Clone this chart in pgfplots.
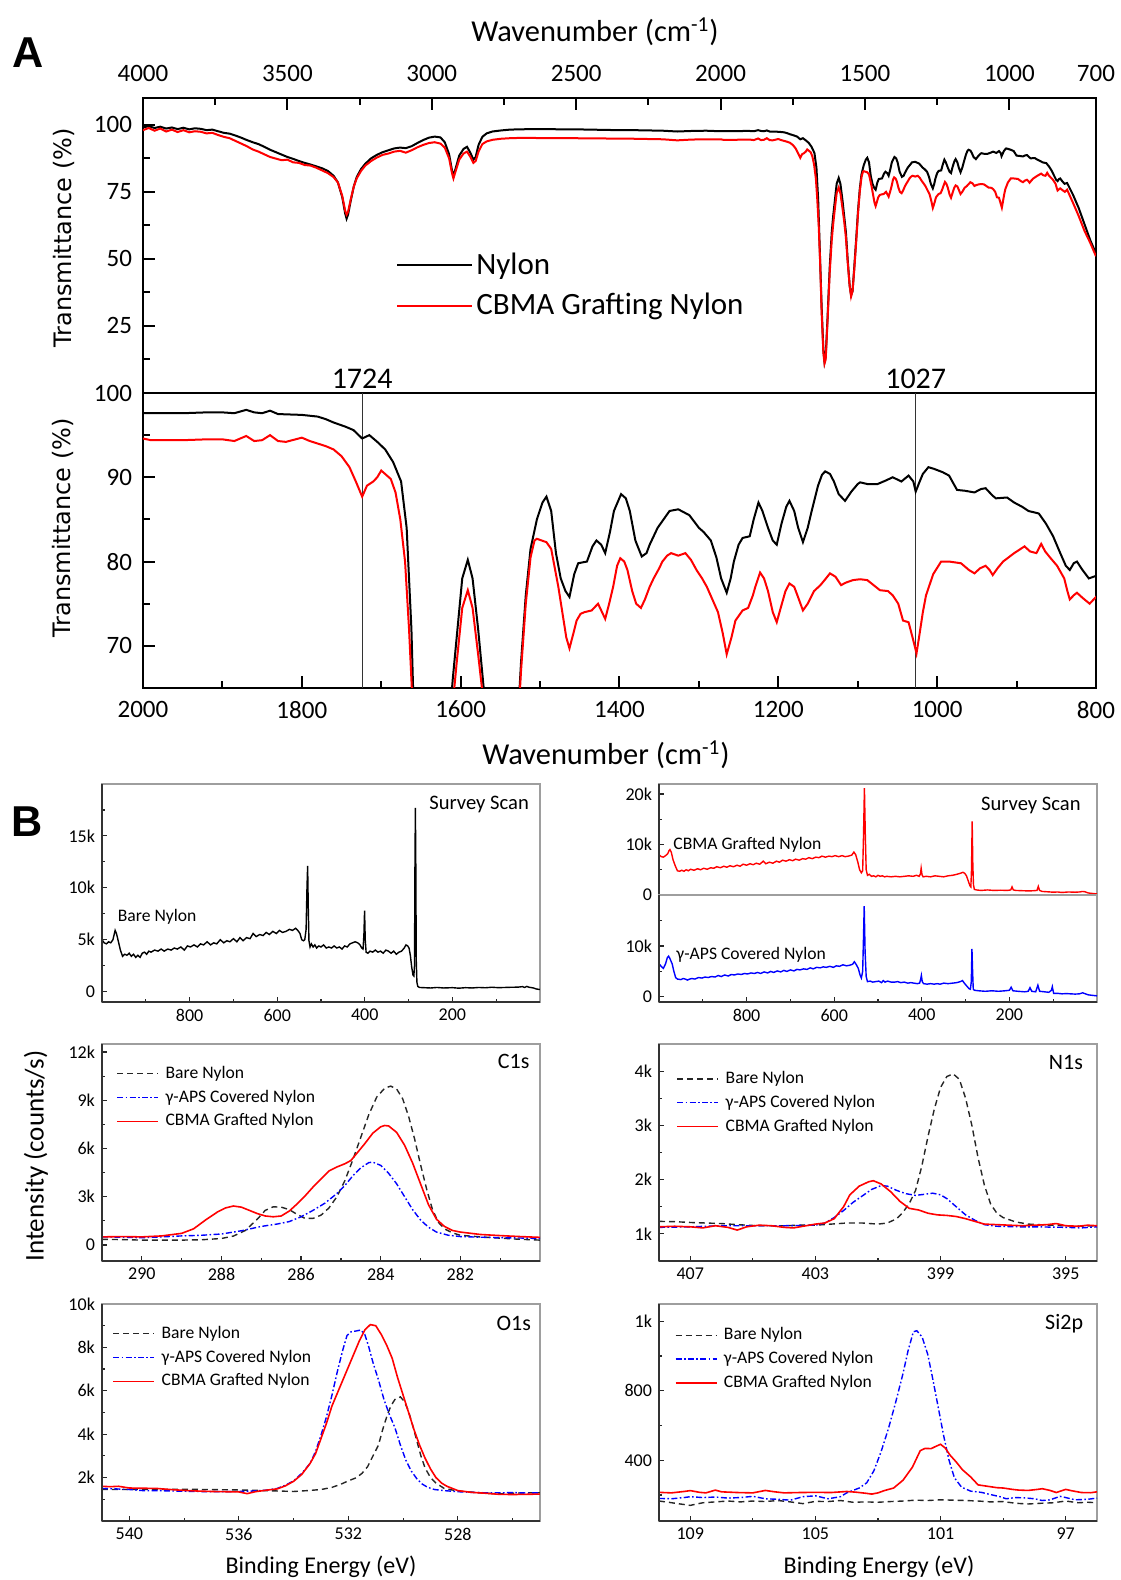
\documentclass[border=0pt]{standalone}
\usepackage{fontspec}
\setmainfont{Carlito}
\newfontfamily\dejavu{DejaVu Sans}
\newfontfamily\arialf{Liberation Sans}
\usepackage{pgfplots}
\usepackage{pgfplotstable}
\pgfplotsset{compat=1.18}

% FTIR spectra (wavenumber, transmittance %)
\pgfplotstableread{
wn T
4000 99.0
3980 99.5
3960 98.8
3940 99.3
3920 98.6
3900 99.0
3880 98.4
3860 98.9
3840 98.3
3820 98.7
3800 98.5
3780 98.0
3760 98.2
3740 97.6
3720 97.0
3700 96.7
3680 96.0
3660 95.2
3640 94.3
3620 93.5
3600 92.8
3580 91.8
3560 90.7
3540 89.8
3520 88.9
3500 88.0
3480 87.3
3460 86.5
3440 85.8
3420 85.2
3400 84.5
3380 83.8
3360 82.8
3340 81.0
3325 78.5
3310 73.0
3300 67.0
3295 65.0
3290 66.5
3280 72.0
3270 77.0
3260 80.5
3245 83.5
3230 85.5
3210 87.5
3190 88.8
3170 89.8
3150 90.5
3130 91.2
3110 91.5
3090 91.3
3070 92.0
3050 93.2
3030 94.3
3010 95.2
2990 95.6
2970 95.3
2955 93.5
2940 89.0
2930 83.0
2925 81.0
2918 83.5
2905 88.5
2890 91.0
2878 91.8
2866 89.5
2856 87.0
2848 88.0
2838 92.5
2825 95.5
2810 96.8
2790 97.5
2760 97.9
2730 98.2
2700 98.3
2650 98.4
2600 98.4
2550 98.3
2500 98.3
2450 98.2
2400 98.1
2350 98.0
2300 98.0
2250 97.9
2200 97.8
2150 97.5
2100 97.7
2050 97.8
2000 97.6
1950 97.6
1920 97.7
1900 97.7
1885 97.6
1870 98.0
1860 97.7
1850 97.6
1840 97.9
1830 97.5
1800 97.4
1780 97.2
1770 96.9
1760 96.5
1745 96.0
1735 95.6
1724 94.6
1715 95.0
1705 94.2
1695 93.3
1685 91.8
1675 89.5
1668 84.0
1662 72.0
1656 52.0
1650 32.0
1644 16.0
1640 11.5
1636 13.5
1630 27.0
1622 47.0
1615 60.0
1610 66.0
1605 71.0
1598 78.0
1591 80.2
1585 78.0
1578 72.0
1572 66.0
1566 60.0
1560 50.0
1553 40.0
1548 36.5
1543 38.0
1537 47.0
1530 58.0
1524 68.0
1518 76.0
1512 81.5
1504 85.0
1497 87.0
1492 87.7
1486 86.0
1480 81.0
1474 78.0
1468 76.5
1463 75.8
1457 78.5
1452 79.8
1441 80.0
1434 81.8
1429 82.5
1423 82.0
1418 81.0
1412 83.5
1407 86.0
1398 88.0
1392 87.5
1387 86.0
1380 82.5
1372 80.6
1366 81.0
1362 82.0
1352 84.0
1337 86.0
1326 86.2
1312 85.5
1300 84.0
1294 83.5
1285 82.5
1278 80.5
1272 78.0
1265 76.3
1260 78.0
1256 80.0
1250 82.0
1245 82.8
1236 83.0
1231 85.0
1225 87.0
1220 86.0
1213 84.0
1207 82.5
1202 82.0
1196 84.5
1190 86.5
1186 87.2
1180 86.0
1175 84.0
1169 82.3
1163 84.0
1158 86.0
1150 89.0
1145 90.3
1141 90.7
1135 90.4
1130 89.5
1124 88.0
1116 87.2
1108 88.3
1100 89.2
1097 89.4
1088 89.2
1075 89.2
1065 89.6
1056 90.0
1045 89.5
1036 90.2
1030 89.5
1027 88.3
1022 89.5
1018 90.4
1011 91.2
1004 91.0
993 90.6
985 90.2
975 88.5
965 88.4
953 88.2
945 88.6
939 88.7
930 87.8
926 87.5
912 87.6
903 87.0
893 86.5
885 86.0
872 85.7
863 84.5
854 83.0
845 81.0
838 79.5
833 79.0
828 79.8
824 80.0
817 79.0
809 78.0
800 78.3
780 74.0
760 69.0
740 63.0
720 57.0
700 52.0
}\ftirnylon

\pgfplotstableread{
wn T
4000 98.0
3980 98.8
3960 97.8
3940 98.6
3920 97.5
3900 98.2
3880 97.3
3860 98.0
3840 97.2
3820 97.6
3800 97.4
3780 96.8
3760 97.0
3740 96.2
3720 95.5
3700 95.0
3680 94.0
3660 93.0
3640 92.0
3620 90.8
3600 90.0
3580 89.0
3560 88.0
3540 87.4
3520 86.8
3500 87.0
3480 86.0
3460 85.8
3440 85.0
3420 84.8
3400 84.0
3380 83.0
3360 82.0
3340 80.5
3325 78.5
3310 73.5
3300 68.0
3295 66.5
3290 67.5
3280 72.5
3270 77.0
3260 80.0
3245 82.8
3230 84.8
3210 86.5
3190 87.8
3170 88.8
3150 89.3
3130 90.0
3110 90.3
3090 89.6
3070 90.5
3050 91.6
3030 92.5
3010 93.2
2990 93.5
2970 93.0
2955 91.5
2940 87.5
2930 82.0
2925 80.0
2918 82.5
2905 87.0
2890 89.3
2878 90.0
2866 88.0
2856 85.8
2848 86.5
2838 90.0
2825 92.8
2810 93.8
2790 94.4
2760 94.8
2730 95.0
2700 95.1
2650 95.1
2600 95.0
2550 95.0
2500 95.0
2450 94.9
2400 94.9
2350 94.8
2300 94.8
2250 94.7
2200 94.6
2150 94.2
2100 94.5
2050 94.6
2000 94.6
1990 94.4
1950 94.4
1920 94.5
1900 94.5
1885 94.3
1870 94.9
1860 94.3
1850 94.4
1840 95.0
1830 94.3
1820 94.2
1800 94.7
1790 94.3
1780 94.0
1770 93.7
1760 93.3
1750 92.5
1740 91.2
1732 89.5
1724 87.7
1718 89.0
1710 89.5
1705 90.0
1700 90.8
1694 90.3
1688 89.8
1682 88.2
1676 85.0
1670 80.0
1665 72.0
1660 62.0
1655 48.0
1650 30.0
1644 15.0
1640 11.0
1636 12.5
1630 26.0
1622 45.0
1615 57.0
1610 63.0
1605 68.0
1598 74.5
1591 76.6
1585 74.5
1578 69.0
1572 64.0
1566 58.0
1560 49.0
1553 40.0
1548 36.0
1543 38.0
1537 46.0
1530 57.0
1524 67.0
1518 75.0
1512 80.5
1507 82.5
1504 82.7
1498 82.5
1492 82.3
1486 81.5
1483 80.0
1477 77.0
1472 74.0
1467 71.0
1463 69.7
1458 71.5
1454 73.0
1449 73.8
1444 74.0
1435 74.2
1427 75.0
1422 74.0
1418 73.2
1413 75.0
1408 77.0
1403 79.5
1399 80.4
1394 80.0
1390 79.0
1384 76.5
1379 75.0
1373 74.5
1368 75.5
1362 77.0
1357 78.0
1350 79.2
1346 80.0
1340 80.7
1335 81.0
1326 80.7
1317 81.0
1310 80.2
1303 79.0
1296 78.0
1290 77.0
1283 75.5
1276 74.0
1270 71.5
1265 69.0
1259 71.0
1254 73.0
1245 74.2
1238 74.5
1232 76.0
1229 77.0
1223 78.7
1218 78.0
1213 76.5
1207 74.0
1202 72.8
1197 74.5
1191 76.5
1186 77.4
1180 77.0
1176 76.0
1169 74.2
1163 75.0
1155 76.5
1147 77.2
1140 78.0
1135 78.6
1128 78.2
1121 77.2
1115 77.5
1106 77.8
1097 77.9
1088 77.8
1080 77.2
1072 76.6
1062 76.5
1056 76.0
1049 75.0
1043 73.0
1036 72.8
1031 71.0
1026 69.1
1022 71.5
1018 74.0
1014 76.0
1005 78.5
995 80.0
985 80.0
970 79.8
960 79.0
953 78.6
946 79.2
939 79.5
934 79.0
930 78.4
924 79.2
917 80.0
910 80.5
903 81.0
890 81.8
883 81.2
875 81.0
869 82.1
864 81.2
858 80.5
849 79.5
840 78.0
836 76.5
833 75.5
828 76.0
824 76.3
817 75.7
808 75.0
800 75.8
780 71.0
760 66.0
740 60.5
720 56.0
700 51.0
}\ftircbma

% XPS survey scans (binding energy eV, counts/s)
\pgfplotstableread{
be c
1000 5000
995 4700
990 4600
985 4800
980 4700
975 5000
970 5900
967 5600
963 4900
958 4000
953 3400
948 3600
943 3500
938 3700
933 3400
928 3600
923 3300
918 3500
913 3300
908 3700
903 3800
898 3600
893 3900
888 3800
880 4000
872 3900
865 4100
858 3900
850 4100
842 4000
835 4200
828 4100
820 4300
812 4000
805 4400
798 4300
790 4500
782 4300
775 4600
768 4500
760 4800
752 4500
745 4700
738 4600
730 5000
722 4700
715 4900
708 4800
700 5100
692 4800
685 5200
678 4900
670 5200
662 5100
655 5600
648 5300
640 5500
632 5400
625 5700
618 5500
610 5800
602 5600
595 5900
588 5700
580 5800
572 6000
565 5900
558 6100
553 5900
548 5600
544 5000
540 4900
537 5000
534 6000
532 10000
530.5 12100
529 8000
527.5 4900
525 4300
522 4600
518 4300
514 4500
510 4200
505 4400
500 4300
494 4500
488 4200
482 4300
476 4200
470 4400
464 4200
458 4300
452 4100
446 4400
440 4300
434 4600
428 4700
422 4800
416 4700
411 4500
407 4200
404 4100
402 5500
400.5 7800
399 5000
397 3800
393 3700
388 3900
382 3800
376 4000
370 3800
364 3900
358 3700
352 4000
346 3900
340 3700
334 3900
328 3600
322 3800
316 3900
310 4200
306 4500
302 4400
299 4200
296 3500
293 2400
290 1600
288 1500
286.5 2500
285.5 12000
284.5 17700
283.5 12000
282.5 3000
281 900
279 500
275 400
265 380
250 350
235 400
220 350
200 380
185 330
170 380
155 350
140 400
125 370
110 420
95 380
80 400
65 420
50 430
40 480
35 400
30 500
25 420
15 350
8 250
0 200
}\survbare

\pgfplotstableread{
be c
1000 8000
995 7600
990 7500
985 7800
980 8200
977 8800
975 9000
972 8500
968 7000
963 5800
958 4800
953 4700
948 4900
943 4700
938 5000
933 4800
928 5100
920 4900
912 5200
905 5000
898 5300
890 5100
882 5400
875 5300
868 5600
860 5400
852 5700
845 5500
838 5800
830 5600
822 5900
815 5700
808 6100
800 5900
792 6200
785 6000
778 6300
770 6100
762 6700
756 6200
748 6500
740 6300
732 6700
725 6500
718 6900
710 6700
702 7000
695 6800
688 7100
680 6900
672 7200
665 7100
658 7400
650 7200
642 7500
635 7400
628 7700
620 7500
612 7700
605 7600
598 7800
590 7600
582 7800
575 7600
568 7700
560 7900
555 8500
551 8000
546 6500
542 5000
538 4400
535 4800
533 12000
531 21200
529 12000
527 5000
524 3900
520 4100
515 3700
510 3800
505 3600
500 3900
495 3700
490 3800
485 3600
480 3700
470 3600
460 3700
450 3600
440 3700
430 3800
420 3700
412 3900
406 3700
403 4200
401.5 5300
399.5 4000
397 3600
390 3700
380 3600
370 3800
360 3700
350 3600
340 3800
330 3900
320 4100
312 4300
306 4500
302 4300
298 3800
294 2800
290 1800
288 1600
286.5 5000
285 14600
283.5 6000
282 2000
280 1100
275 1000
265 900
250 1000
235 900
220 950
205 900
197 1000
194 1600
191 1000
185 900
170 850
155 800
145 850
137 900
134 1700
131 900
125 700
115 650
100 550
90 600
80 500
65 600
50 550
40 600
33 700
28 650
20 400
10 300
0 200
}\survcbma

\pgfplotstableread{
be c
1000 6500
995 6000
990 5600
985 6500
981 7700
978 8000
975 7500
970 6500
966 5000
962 3800
958 3500
950 3400
945 3600
940 3500
935 3300
930 3500
925 3600
918 3500
910 3800
902 3700
895 3900
888 3800
880 4000
872 3900
865 4200
858 4000
850 4300
842 4100
835 4400
828 4300
820 4500
812 4400
805 4600
798 4500
790 4700
782 4600
775 4800
768 4600
760 4900
752 4700
745 5000
738 4800
730 5100
722 4900
715 5200
708 5000
700 5300
692 5100
685 5400
678 5300
670 5500
662 5400
655 5700
648 5500
640 5800
632 5700
625 5900
618 5800
610 6000
602 5800
595 6100
588 6000
580 6300
572 6100
565 6200
558 6400
554 6900
550 6400
545 5600
541 4300
538 3700
535 5000
533 12000
531.5 17800
529.5 9000
527 4000
524 3000
518 3100
512 2900
505 3000
498 3100
492 2800
488 3200
484 2900
478 3100
470 2900
462 2900
455 3000
448 2800
440 2900
432 2700
425 2800
418 2700
410 2600
405 2700
402.5 3500
401 4200
399 3000
396 2600
388 2500
380 2600
372 2500
365 2600
358 2500
350 2700
340 2600
330 2700
320 2800
312 3000
307 3200
303 2700
298 2200
292 1600
289 1500
287 3000
285.5 9400
284 5000
282.5 1500
280 1300
270 1200
255 1100
240 1200
225 1100
210 1200
200 1300
196 1900
192 1200
180 1100
165 1000
157 1100
153 1800
149 1100
140 1000
135 2300
131 1100
120 1000
110 900
104 1300
102 2000
99 700
90 700
80 600
70 650
60 600
50 550
40 600
33 800
28 650
20 400
10 300
0 200
}\survaps

% C1s
\pgfplotstableread{
be c
291 350
290.5 330
290 300
289.5 300
289 300
288.5 320
288 400
287.7 550
287.4 900
287.1 1600
286.9 2150
286.7 2370
286.5 2350
286.3 2200
286.1 1900
285.9 1650
285.7 1650
285.5 1850
285.3 2300
285.1 3000
284.9 4000
284.7 5300
284.5 6700
284.3 8100
284.1 9200
283.9 9750
283.75 9880
283.6 9700
283.45 9100
283.3 8000
283.15 6600
283.0 5000
282.85 3500
282.7 2200
282.55 1400
282.4 1000
282.2 750
282.0 600
281.5 500
281.0 420
280.5 350
280.0 300
}\cbare
\pgfplotstableread{
be c
291 500
290.5 480
290 450
289.5 500
289 560
288.5 600
288 680
287.5 880
287 1150
286.6 1300
286.3 1450
286 1750
285.7 2150
285.4 2600
285.1 3200
284.9 3700
284.7 4300
284.5 4800
284.3 5120
284.2 5150
284.0 4950
283.8 4450
283.6 3800
283.4 3000
283.2 2200
283.0 1550
282.8 1100
282.6 800
282.3 600
282 520
281.5 480
281 450
280.5 430
280 400
}\caps
\pgfplotstableread{
be c
291 500
290.5 520
290 500
289.5 560
289 720
288.7 1000
288.4 1550
288.1 2050
287.9 2300
287.7 2420
287.5 2350
287.3 2150
287.1 1950
286.9 1800
286.7 1750
286.5 1800
286.3 2100
286.1 2550
285.9 3050
285.7 3600
285.5 4100
285.3 4600
285.1 4850
284.9 5050
284.75 5250
284.6 5700
284.4 6300
284.2 6950
284.0 7350
283.9 7430
283.8 7400
283.6 7000
283.4 6200
283.2 5100
283.0 3800
282.8 2500
282.6 1600
282.4 1150
282.2 900
282.0 800
281.5 650
281 580
280.5 520
280 470
}\ccbma

% N1s
\pgfplotstableread{
be c
408 1230
407.5 1225
407 1210
406.5 1200
406 1190
405.5 1170
405 1155
404.5 1150
404 1150
403.5 1160
403 1160
402.5 1180
402 1200
401.5 1200
401 1180
400.7 1200
400.4 1280
400.2 1400
400.0 1560
399.8 1800
399.6 2250
399.4 2800
399.2 3300
399.0 3700
398.8 3900
398.6 3950
398.4 3850
398.2 3500
398.0 3000
397.8 2400
397.6 1900
397.4 1550
397.2 1380
397.0 1300
396.6 1220
396.2 1180
395.5 1160
395 1150
394.5 1140
394 1150
}\nbare
\pgfplotstableread{
be c
408 1120
407 1130
406 1150
405 1150
404 1150
403 1160
402.7 1200
402.4 1300
402.1 1430
401.8 1580
401.5 1700
401.2 1820
400.9 1890
400.7 1880
400.4 1800
400.1 1740
399.8 1710
399.5 1730
399.25 1750
399.0 1720
398.8 1650
398.5 1500
398.2 1350
397.9 1250
397.6 1170
397.2 1140
396.5 1130
396 1130
395 1120
394.5 1110
394 1130
}\naps
\pgfplotstableread{
be c
408 1130
407.5 1140
407 1130
406.6 1110
406.2 1150
405.8 1120
405.5 1070
405.2 1130
404.8 1160
404.4 1150
404.0 1120
403.7 1110
403.3 1150
403.0 1180
402.7 1200
402.4 1280
402.1 1500
401.9 1720
401.6 1880
401.3 1960
401.15 1980
400.9 1920
400.6 1780
400.3 1600
400.0 1470
399.7 1440
399.4 1380
399.1 1350
398.8 1340
398.5 1320
398.2 1280
397.9 1230
397.6 1180
397.2 1170
396.8 1160
396.4 1150
396.0 1160
395.6 1170
395.3 1190
395.0 1150
394.6 1140
394.3 1160
394 1150
}\ncbma

% O1s
\pgfplotstableread{
be c
541 1450
540 1450
539 1450
538 1460
537 1450
536 1430
535 1400
534 1360
533.5 1400
533 1450
532.6 1550
532.3 1680
532.0 1850
531.7 2000
531.5 2200
531.3 2500
531.1 3000
530.9 3500
530.75 4200
530.6 4800
530.45 5300
530.3 5600
530.1 5720
529.95 5500
529.8 5050
529.65 4400
529.5 3700
529.35 3000
529.2 2450
529.0 2000
528.8 1750
528.5 1500
528.0 1380
527.5 1330
527 1280
526.5 1250
526 1280
525.5 1300
525 1300
}\obare
\pgfplotstableread{
be c
541 1500
540.5 1480
540 1450
539.5 1400
539 1400
538 1370
537 1350
536 1360
535.5 1380
535 1420
534.6 1500
534.3 1650
534 1850
533.7 2200
533.4 2650
533.2 3200
533.0 3950
532.8 4800
532.6 5800
532.4 6900
532.2 7900
532.05 8550
531.9 8720
531.7 8760
531.55 8800
531.4 8600
531.25 8000
531.1 7300
530.9 6500
530.7 5600
530.5 4900
530.3 4300
530.1 3500
529.9 2800
529.7 2300
529.5 1950
529.3 1700
529.1 1550
528.85 1450
528.5 1400
528 1350
527.5 1320
527 1300
526.5 1300
526 1310
525.5 1290
525 1300
}\oaps
\pgfplotstableread{
be c
541 1600
540.7 1580
540.4 1600
540 1520
539.5 1510
539 1500
538.5 1450
538 1410
537.5 1380
537 1360
536.5 1350
536 1340
535.7 1260
535.4 1350
535 1420
534.6 1480
534.3 1620
534 1830
533.7 2150
533.4 2650
533.2 3100
533.0 3800
532.8 4500
532.6 5300
532.4 5900
532.2 6500
532.0 7100
531.8 7700
531.6 8300
531.4 8800
531.2 9050
531.0 9000
530.8 8600
530.6 8100
530.4 7500
530.2 6600
530.0 5800
529.8 5000
529.6 4200
529.4 3500
529.2 2900
529.0 2400
528.8 2000
528.6 1750
528.4 1600
528.2 1500
528 1400
527.5 1320
527 1280
526.5 1230
526 1220
525.5 1230
525 1240
}\ocbma

% Si2p
\pgfplotstableread{
be c
110 165
109.7 158
109.4 150
109 140
108.6 155
108.2 160
107.8 165
107.4 160
107 165
106.6 162
106.2 168
105.8 160
105.4 150
105 163
104.6 162
104.2 168
103.8 158
103.4 160
103 158
102.6 162
102.2 165
101.8 170
101.4 168
101 172
100.6 170
100.2 168
99.8 165
99.4 160
99 162
98.6 152
98.2 148
97.8 152
97.4 155
97 165
96.6 155
96.3 158
96 155
}\sbare
\pgfplotstableread{
be c
110 180
109.6 178
109.2 185
109 190
108.6 185
108.2 188
107.8 182
107.4 185
107 192
106.6 178
106.2 175
105.8 170
105.4 190
105 195
104.6 178
104.2 190
104.0 212
103.6 240
103.36 270
103.13 340
102.9 450
102.67 580
102.44 730
102.2 900
102.04 1030
101.87 1140
101.76 1146
101.59 1110
101.41 1010
101.24 860
101.07 700
100.9 540
100.73 400
100.56 300
100.33 245
100.04 222
99.7 215
99.47 205
99.1 190
98.9 178
98.6 185
98.3 183
98 178
97.75 168
97.5 172
97.18 192
97 185
96.7 172
96.3 175
96 182
}\saps
\pgfplotstableread{
be c
110 215
109.6 212
109.2 220
109.0 225
108.7 215
108.5 212
108.2 228
108.0 218
107.5 214
107 212
106.6 226
106.3 218
106 212
105.5 214
105 215
104.5 214
104 220
103.7 216
103.4 210
103.2 205
103 212
102.8 225
102.5 240
102.2 285
101.9 360
101.65 455
101.5 468
101.3 467
101.15 480
101.0 492
100.85 470
100.7 430
100.5 390
100.3 345
100.04 304
99.8 258
99.5 250
99.2 242
99.0 240
98.7 232
98.5 228
98.2 226
97.9 232
97.75 236
97.5 226
97.3 214
97.0 232
96.8 224
96.5 214
96.2 213
96 218
}\scbma

\pgfplotsset{
  ftir/.style={
    scale only axis, width=476.5pt, height=147.5pt, x dir=reverse,
    axis line style={line width=1pt},
    tick align=inside, major tick length=6pt, minor tick length=3.5pt,
    tick style={black, line width=1pt},
    tick label style={font=\fontsize{12.5}{14}\selectfont},
    yticklabel style={xshift=-2pt},
    ytick pos=left,
    /pgf/number format/assume math mode=true,
    /pgf/number format/1000 sep={},
    scaled ticks=false,
  },
  xps/.style={
    scale only axis, width=219pt, x dir=reverse,
    axis line style={black!38, line width=0.6pt},
    tick align=inside, major tick length=2.6pt, minor tick length=1.6pt,
    tick style={black!85, line width=0.6pt},
    tick label style={font=\fontsize{9}{10}\selectfont},
    xtick pos=lower, ytick pos=left,
    /pgf/number format/assume math mode=true,
    /pgf/number format/1000 sep={},
    scaled ticks=false,
    legend cell align=left,
    legend style={draw=none, fill=none, font=\fontsize{8.8}{10}\selectfont,
      anchor=north west, inner sep=0pt, row sep=1.7pt, nodes={inner sep=1.3pt}},
    legend image code/.code={\draw[##1] (0pt,0pt) -- (20.5pt,0pt); \path (22.5pt,0pt);},
  },
  darkleft/.style={after end axis/.append code={
    \draw[black!80, line width=0.6pt] (axis description cs:0,0) -- (axis description cs:0,1);}},
  darkbottom/.style={after end axis/.append code={
    \draw[black!80, line width=0.6pt] (axis description cs:0,0) -- (axis description cs:1,0);}},
  bare/.style={black!85, line width=0.7pt, dash pattern=on 3pt off 2pt},
  aps/.style={blue, line width=0.7pt, dash pattern=on 3pt off 1.2pt on 0.8pt off 1.2pt},
  cbma/.style={red, line width=0.8pt},
}

\begin{document}
\begin{tikzpicture}
\path[use as bounding box] (0pt,0pt) rectangle (560pt,790pt);

% ---------- panel A ----------
\node[font=\arialf\bfseries\fontsize{21.6}{22}\selectfont, inner sep=0pt] at (14pt,763.7pt) {A};
\node[anchor=base, font=\fontsize{15.2}{17}\selectfont] at (297.5pt,769pt) {Wavenumber (cm\textsuperscript{-1})};
\node[anchor=base, font=\fontsize{15.2}{17}\selectfont] at (303pt,407.5pt) {Wavenumber (cm\textsuperscript{-1})};
\node[rotate=90, font=\dejavu\fontsize{12}{14}\selectfont] at (32pt,671pt) {Transmittance (\%)};
\node[rotate=90, font=\dejavu\fontsize{12}{14}\selectfont] at (31.5pt,526pt) {Transmittance (\%)};

\begin{axis}[ftir,
  at={(71.5pt,593.5pt)}, anchor=south west,
  xmin=700, xmax=4000, ymin=0, ymax=110,
  xtick={700,1000,1500,2000,2500,3000,3500,4000},
  minor xtick={1250,1750,2250,2750,3250,3750},
  xtick pos=upper, xticklabel pos=upper,
  xticklabel style={yshift=4.5pt},
  ytick={25,50,75,100}, minor ytick={12.5,37.5,62.5,87.5},
  legend cell align=left,
  legend style={draw=none, fill=none, at={(0.2655,0.487)}, anchor=north west,
    font=\fontsize{15.5}{17}\selectfont, inner sep=0pt, row sep=5pt, nodes={inner sep=1.5pt}},
  legend image code/.code={\draw[#1] (0pt,0pt) -- (37.5pt,0pt);},
]
\addplot[black, line width=1pt] table[x=wn, y=T] {\ftirnylon};
\addlegendentry{Nylon}
\addplot[red, line width=1pt] table[x=wn, y=T] {\ftircbma};
\addlegendentry{CBMA Grafting Nylon}
\end{axis}

\begin{axis}[ftir,
  at={(71.5pt,446pt)}, anchor=south west,
  xmin=800, xmax=2000, ymin=65, ymax=100,
  clip mode=individual,
  xtick={800,1000,1200,1400,1600,1800,2000},
  minor xtick={900,1100,1300,1500,1700,1900},
  xtick pos=lower, xticklabel style={yshift=-3pt},
  ytick={70,80,90,100}, minor ytick={75,85,95},
]
\addplot[black!80, line width=0.5pt] coordinates {(1724,65) (1724,100)};
\addplot[black!80, line width=0.5pt] coordinates {(1027,65) (1027,100)};
\addplot[black, line width=1pt] table[x=wn, y=T] {\ftirnylon};
\addplot[red, line width=1pt] table[x=wn, y=T] {\ftircbma};
\node[anchor=base, font=\fontsize{15}{17}\selectfont] at (axis cs:1724,100) [yshift=2pt] {1724};
\node[anchor=base, font=\fontsize{15}{17}\selectfont] at (axis cs:1027,100) [yshift=2pt] {1027};
\end{axis}

% ---------- panel B ----------
\node[font=\arialf\bfseries\fontsize{21.6}{22}\selectfont, inner sep=0pt] at (13.5pt,379.2pt) {B};
\node[rotate=90, font=\fontsize{13.5}{15}\selectfont] at (18pt,212pt) {Intensity (counts/s)};
\node[font=\fontsize{12}{14}\selectfont] at (160.5pt,6.5pt) {Binding Energy (eV)};
\node[font=\fontsize{12}{14}\selectfont] at (439.5pt,6.5pt) {Binding Energy (eV)};

% survey, bare nylon
\begin{axis}[xps, darkleft, darkbottom,
  at={(51pt,289pt)}, anchor=south west, height=109pt,
  xmin=0, xmax=1000, ymin=-1000, ymax=20000,
  xtick={200,400,600,800}, minor xtick={100,300,500,700,900},
  ytick={0,5000,10000,15000}, yticklabels={0,5k,10k,15k},
  minor ytick={2500,7500,12500,17500},
]
\addplot[black, line width=0.7pt] table[x=be, y=c] {\survbare};
\node[font=\fontsize{10.3}{12}\selectfont] at (axis description cs:0.861,0.904) {Survey Scan};
\node[font=\fontsize{8.8}{10}\selectfont] at (axis description cs:0.126,0.39) {Bare Nylon};
\end{axis}

% survey, CBMA grafted (upper half)
\begin{axis}[xps, darkleft,
  at={(329.5pt,342.5pt)}, anchor=south west, height=55.5pt,
  xmin=0, xmax=1000, ymin=0, ymax=22000,
  xtick=\empty,
  ytick={0,10000,20000}, yticklabels={0,10k,20k}, minor ytick={5000,15000},
]
\addplot[red, line width=0.7pt] table[x=be, y=c] {\survcbma};
\node[font=\fontsize{10.3}{12}\selectfont] at (axis description cs:0.849,0.81) {Survey Scan};
\node[anchor=west, inner sep=0pt, font=\fontsize{8.8}{10}\selectfont] at (axis description cs:0.032,0.45) {CBMA Grafted Nylon};
\end{axis}

% survey, gamma-APS covered (lower half)
\begin{axis}[xps, darkleft, darkbottom,
  at={(329.5pt,289pt)}, anchor=south west, height=53.5pt,
  xmin=0, xmax=1000, ymin=-1000, ymax=20000,
  xtick={200,400,600,800}, minor xtick={100,300,500,700,900},
  ytick={0,10000}, yticklabels={0,10k}, minor ytick={5000,15000},
]
\addplot[blue, line width=0.7pt] table[x=be, y=c] {\survaps};
\node[anchor=west, inner sep=0pt, font=\fontsize{8.8}{10}\selectfont] at (axis description cs:0.039,0.44) {γ-APS Covered Nylon};
\end{axis}

% C1s
\begin{axis}[xps, darkleft, darkbottom,
  at={(51pt,159.5pt)}, anchor=south west, height=108.5pt,
  xmin=280, xmax=291, ymin=-1000, ymax=12500,
  xtick={282,284,286,288,290}, minor xtick={281,283,285,287,289},
  ytick={0,3000,6000,9000,12000}, yticklabels={0,3k,6k,9k,12k},
  minor ytick={1500,4500,7500,10500},
  legend style={at={(0.032,0.912)}},
]
\addplot[bare] table[x=be, y=c] {\cbare};
\addlegendentry{Bare Nylon}
\addplot[aps] table[x=be, y=c] {\caps};
\addlegendentry{γ-APS Covered Nylon}
\addplot[cbma] table[x=be, y=c] {\ccbma};
\addlegendentry{CBMA Grafted Nylon}
\node[font=\fontsize{11}{13}\selectfont] at (axis description cs:0.94,0.92) {C1s};
\end{axis}

% N1s
\begin{axis}[xps, darkleft, darkbottom,
  at={(329.5pt,159.5pt)}, anchor=south west, height=108.5pt,
  xmin=394, xmax=408, ymin=500, ymax=4500,
  xtick={395,399,403,407}, minor xtick={397,401,405},
  ytick={1000,2000,3000,4000}, yticklabels={1k,2k,3k,4k},
  minor ytick={1500,2500,3500},
  legend style={at={(0.039,0.888)}},
]
\addplot[bare] table[x=be, y=c] {\nbare};
\addlegendentry{Bare Nylon}
\addplot[aps] table[x=be, y=c] {\naps};
\addlegendentry{γ-APS Covered Nylon}
\addplot[cbma] table[x=be, y=c] {\ncbma};
\addlegendentry{CBMA Grafted Nylon}
\node[font=\fontsize{11}{13}\selectfont] at (axis description cs:0.929,0.917) {N1s};
\end{axis}

% O1s
\begin{axis}[xps, darkleft, darkbottom,
  at={(51pt,29.5pt)}, anchor=south west, height=108.5pt,
  xmin=525, xmax=541, ymin=0, ymax=10000,
  xtick={528,532,536,540}, minor xtick={526,530,534,538},
  ytick={2000,4000,6000,8000,10000}, yticklabels={2k,4k,6k,8k,10k},
  minor ytick={1000,3000,5000,7000,9000},
  legend style={at={(0.023,0.912)}},
]
\addplot[bare] table[x=be, y=c] {\obare};
\addlegendentry{Bare Nylon}
\addplot[aps] table[x=be, y=c] {\oaps};
\addlegendentry{γ-APS Covered Nylon}
\addplot[cbma] table[x=be, y=c] {\ocbma};
\addlegendentry{CBMA Grafted Nylon}
\node[font=\fontsize{11}{13}\selectfont] at (axis description cs:0.94,0.912) {O1s};
\end{axis}

% Si2p
\begin{axis}[xps, darkleft, darkbottom,
  at={(329.5pt,29.5pt)}, anchor=south west, height=108.5pt,
  xmin=96, xmax=110, ymin=50, ymax=1300,
  xtick={97,101,105,109}, minor xtick={99,103,107},
  ytick={400,800,1200}, yticklabels={400,800,1k},
  minor ytick={200,600,1000},
  legend style={at={(0.035,0.905)}},
]
\addplot[bare] table[x=be, y=c] {\sbare};
\addlegendentry{Bare Nylon}
\addplot[aps] table[x=be, y=c] {\saps};
\addlegendentry{γ-APS Covered Nylon}
\addplot[cbma] table[x=be, y=c] {\scbma};
\addlegendentry{CBMA Grafted Nylon}
\node[font=\fontsize{11}{13}\selectfont] at (axis description cs:0.925,0.91) {Si2p};
\end{axis}
\end{tikzpicture}
\end{document}
